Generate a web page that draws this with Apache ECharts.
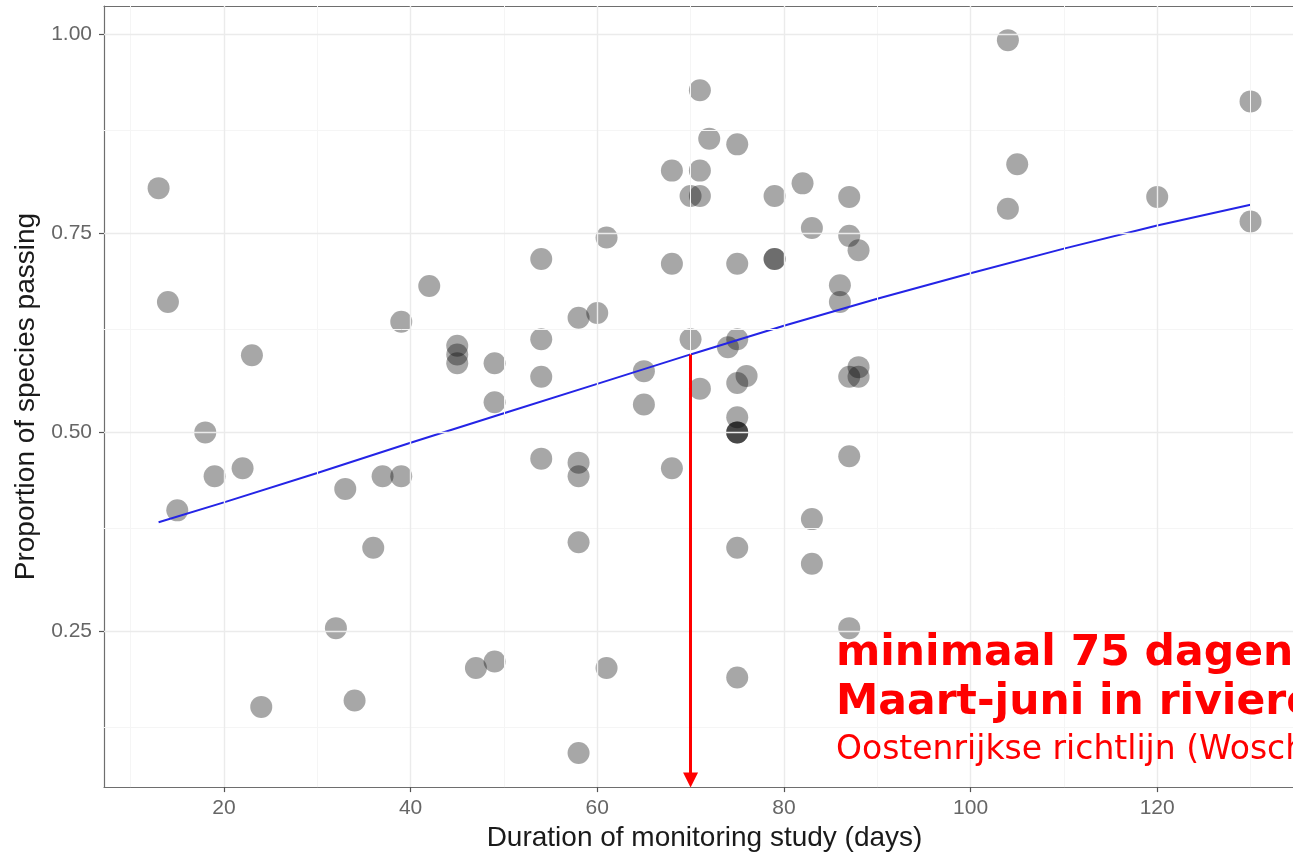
<!DOCTYPE html>
<html>
<head>
<meta charset="utf-8">
<title>Proportion of species passing</title>
<script src="https://cdn.jsdelivr.net/npm/echarts@6/dist/echarts.min.js"></script>
<style>
  html, body { margin: 0; padding: 0; background: #fff; }
  #chart { width: 1293px; height: 857px; }
</style>
</head>
<body>
<div id="chart"></div>
<script>
// monitoring duration (days) and proportion of species passing, one entry per study
const daysX = [13, 14, 15, 18, 19, 22, 23, 24, 32, 33, 34, 36, 37, 39, 39, 42,
  45, 45, 45, 47, 49, 49, 49, 54, 54, 54, 54, 58, 58, 58, 58, 58, 60, 61, 61,
  65, 65, 68, 68, 68, 70, 70, 71, 71, 71, 71, 72, 74, 75, 75, 75, 75, 75, 75,
  75, 75, 75, 75, 76, 79, 79, 79, 82, 83, 83, 83, 86, 86, 87, 87, 87, 87, 87,
  88, 88, 88, 104, 104, 105, 120, 130, 130];
const propY = [0.807, 0.664, 0.402, 0.500, 0.445, 0.455, 0.597, 0.155, 0.254,
  0.429, 0.163, 0.355, 0.445, 0.639, 0.445, 0.684, 0.609, 0.598, 0.587, 0.204,
  0.587, 0.538, 0.212, 0.718, 0.617, 0.570, 0.467, 0.644, 0.462, 0.445, 0.362,
  0.097, 0.650, 0.745, 0.204, 0.577, 0.535, 0.829, 0.712, 0.455, 0.797, 0.617,
  0.930, 0.829, 0.797, 0.555, 0.869, 0.607, 0.862, 0.712, 0.617, 0.562, 0.519,
  0.500, 0.500, 0.500, 0.355, 0.192, 0.571, 0.797, 0.718, 0.718, 0.813, 0.757,
  0.391, 0.335, 0.685, 0.664, 0.796, 0.747, 0.570, 0.470, 0.254, 0.729, 0.582,
  0.570, 0.993, 0.781, 0.837, 0.796, 0.916, 0.765];

// fitted trend (blue line)
const trendX = [13, 20, 30, 40, 50, 60, 70, 80, 90, 100, 110, 120, 130];
const trendY = [0.387, 0.412, 0.449, 0.487, 0.524, 0.561, 0.598, 0.634, 0.668,
  0.700, 0.731, 0.760, 0.786];

// red arrow at 70 days
const arrowX = 70;
const arrowY = [0.598, 0.063];

const xTicks = [20, 40, 60, 80, 100, 120];
const xMinor = [10, 30, 50, 70, 90, 110, 130];
const yTicks = [0.25, 0.5, 0.75, 1.0];
const yMinor = [0.125, 0.375, 0.625, 0.875];

const noteLines = [
  'minimaal 75 dagen',
  'Maart-juni in rivieren',
  'Oostenrijkse richtlijn (Woschitz et al. 2003)'
];

const chart = echarts.init(document.getElementById('chart'), null, { renderer: 'canvas' });

const font = '"Liberation Sans", Arial, sans-serif';
const borderColor = '#6e6e6e';
const gridMajor = '#ebebeb';
const gridMinor = '#f5f5f5';

function vLines(vals) {
  return vals.map(v => ({ xAxis: v }));
}
function hLines(vals) {
  return vals.map(v => ({ yAxis: v }));
}

// panel runs past the right edge of the picture, so the x range stops at the edge
const xMin = 7.15;
const xMax = 134.55;

const option = {
  backgroundColor: '#fff',
  animation: false,
  grid: {
    left: 104,
    top: 6,
    right: 0,
    height: 782
  },
  xAxis: [
    {
      type: 'value',
      min: xMin,
      max: xMax,
      name: 'Duration of monitoring study (days)',
      nameLocation: 'middle',
      nameGap: 36,
      // centred on the full panel, which is wider than the visible part
      nameTextStyle: { fontFamily: font, fontSize: 28, color: '#1a1a1a', padding: [0, 0, 0, 12] },
      axisLine: { show: true, onZero: false, lineStyle: { color: borderColor, width: 1.2 } },
      splitLine: { show: false },
      axisTick: {
        show: true,
        customValues: xTicks,
        length: 5,
        lineStyle: { color: '#555', width: 1.2 }
      },
      axisLabel: {
        customValues: xTicks,
        margin: 11,
        fontFamily: font,
        fontSize: 21,
        color: '#666'
      }
    },
    {
      // top border of the panel
      type: 'value',
      position: 'top',
      min: xMin,
      max: xMax,
      axisLine: { show: true, onZero: false, lineStyle: { color: borderColor, width: 1.2 } },
      axisTick: { show: false },
      axisLabel: { show: false },
      splitLine: { show: false }
    }
  ],
  yAxis: {
    type: 'value',
    min: 0.0542,
    max: 1.0359,
    name: 'Proportion of species passing',
    nameLocation: 'middle',
    nameGap: 64,
    nameTextStyle: { fontFamily: font, fontSize: 28, color: '#1a1a1a' },
    axisLine: { show: true, onZero: false, lineStyle: { color: borderColor, width: 1.2 } },
    splitLine: { show: false },
    axisTick: {
      show: true,
      customValues: yTicks,
      length: 5,
      lineStyle: { color: '#555', width: 1.2 }
    },
    axisLabel: {
      customValues: yTicks,
      margin: 12,
      fontFamily: font,
      fontSize: 21,
      color: '#666',
      formatter: v => v.toFixed(2)
    }
  },
  series: [
    {
      // minor grid
      type: 'line',
      data: [],
      z: 0,
      silent: true,
      markLine: {
        silent: true,
        symbol: 'none',
        label: { show: false },
        lineStyle: { color: gridMinor, width: 1, type: 'solid' },
        data: vLines(xMinor).concat(hLines(yMinor))
      }
    },
    {
      // major grid
      type: 'line',
      data: [],
      z: 1,
      silent: true,
      markLine: {
        silent: true,
        symbol: 'none',
        label: { show: false },
        lineStyle: { color: gridMajor, width: 1.4, type: 'solid' },
        data: vLines(xTicks).concat(hLines(yTicks))
      }
    },
    {
      type: 'scatter',
      z: 3,
      symbolSize: 22,
      itemStyle: { color: 'rgba(0,0,0,0.43)' },
      data: daysX.map((d, i) => [d, propY[i]])
    },
    {
      type: 'line',
      z: 4,
      symbol: 'none',
      lineStyle: { color: '#2424e6', width: 2 },
      data: trendX.map((d, i) => [d, trendY[i]])
    },
    {
      type: 'lines',
      coordinateSystem: 'cartesian2d',
      z: 5,
      symbol: ['none', 'triangle'],
      symbolSize: 15,
      lineStyle: { color: '#ff0000', width: 3, opacity: 1 },
      data: [{ coords: [[arrowX, arrowY[0]], [arrowX, arrowY[1]]] }]
    }
  ],
  graphic: [
    {
      type: 'text',
      left: 836,
      top: 632,
      z: 10,
      style: {
        text: noteLines[0],
        fill: '#ff0000',
        font: 'bold 42.5px "DejaVu Sans", Verdana, sans-serif'
      }
    },
    {
      type: 'text',
      left: 836,
      top: 681,
      z: 10,
      style: {
        text: noteLines[1],
        fill: '#ff0000',
        font: 'bold 42.5px "DejaVu Sans", Verdana, sans-serif'
      }
    },
    {
      type: 'text',
      left: 836,
      top: 734,
      z: 10,
      style: {
        text: noteLines[2],
        fill: '#ff0000',
        font: '33px "DejaVu Sans", Verdana, sans-serif'
      }
    }
  ]
};

chart.setOption(option);
</script>
</body>
</html>
